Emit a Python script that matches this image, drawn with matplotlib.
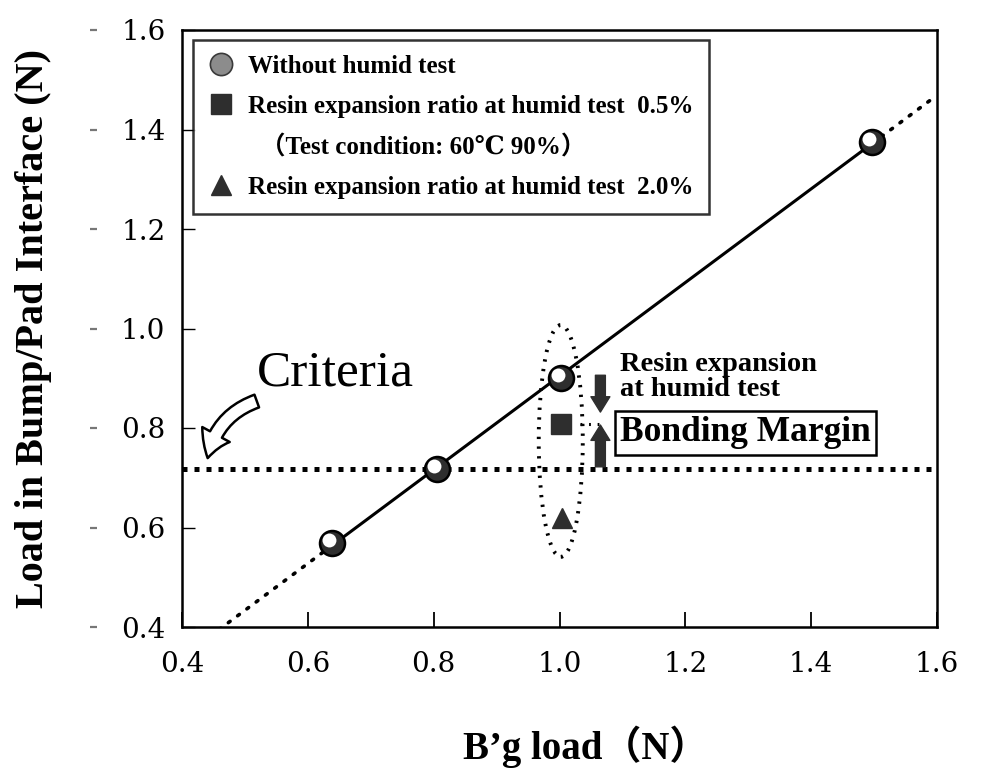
import numpy as np
import matplotlib
matplotlib.use("Agg")
import matplotlib.pyplot as plt
from matplotlib.lines import Line2D
from matplotlib.patches import Ellipse, FancyArrowPatch
from matplotlib.transforms import ScaledTranslation

# ---------------- data ----------------
bg_load = [0.638, 0.805, 1.002, 1.497]          # B'g load (N), without humid test
interface_load = [0.569, 0.718, 0.900, 1.375]   # load in bump/pad interface (N)
humid05_x = [1.002]
humid05_y = [0.808]
humid20_x = [1.004]
humid20_y = [0.619]
criteria = 0.718

xticks = [0.4, 0.6, 0.8, 1.0, 1.2, 1.4, 1.6]
xtick_labels = ["0.4", "0.6", "0.8", "1.0", "1.2", "1.4", "1.6"]
yticks = [0.4, 0.6, 0.8, 1.0, 1.2, 1.4, 1.6]
ytick_labels = ["0.4", "0.6", "0.8", "1.0", "1.2", "1.4", "1.6"]

legend_labels = [
    "Without humid test",
    "Resin expansion ratio at humid test  0.5%",
    "  （Test condition: 60℃ 90%）",
    "Resin expansion ratio at humid test  2.0%",
]
xlabel = "B’g load（N）"
ylabel = "Load in Bump/Pad Interface (N)"

# ---------------- style ----------------
SERIF = ["Liberation Serif", "DejaVu Serif", "Noto Sans CJK JP"]
TICKFONT = ["DejaVu Serif"]
DARK = "#2e2e2e"

fig = plt.figure(figsize=(10.07, 7.68), dpi=100)
ax = fig.add_axes([182 / 1007, 141 / 768, 755 / 1007, 597 / 768])
ax.set_xlim(0.4, 1.6)
ax.set_ylim(0.4, 1.6)

for sp in ax.spines.values():
    sp.set_linewidth(1.8)

ax.set_xticks(xticks, xtick_labels)
ax.set_yticks(yticks, ytick_labels)
ax.tick_params(axis="x", direction="in", length=11, width=1.3, pad=17,
               labelsize=20, top=False)
ax.tick_params(axis="y", direction="in", length=9, width=1.0, pad=12,
               labelsize=20, right=False)
for lab in ax.get_xticklabels() + ax.get_yticklabels():
    lab.set_family(TICKFONT)

# small detached dashes left of the y tick labels
sec = ax.secondary_yaxis(-0.112)
sec.set_yticks(yticks, [""] * len(yticks))
sec.spines["left"].set_visible(False)
sec.tick_params(axis="y", direction="out", length=5, width=1.6, color="#777777")

ax.set_xlabel(xlabel, family=SERIF, fontsize=28, fontweight="bold")
ax.set_ylabel(ylabel, family=SERIF, fontsize=29, fontweight="bold")
ax.xaxis.set_label_coords(0.535, -0.165)
ax.yaxis.set_label_coords(-0.172, 0.5)

# ---------------- criteria line ----------------
ax.axhline(criteria, color="black", lw=3.6, ls=(0, (1, 1.4)), zorder=2)

# ---------------- fitted line ----------------
coef = np.polyfit(bg_load, interface_load, 1)
fit = np.poly1d(coef)
x_in = np.array([min(bg_load), max(bg_load)])
x_lo = np.array([ax.get_xlim()[0], min(bg_load)])
x_hi = np.array([max(bg_load), ax.get_xlim()[1]])
ax.plot(x_in, fit(x_in), color="black", lw=2.2, zorder=3)
dot = dict(color="black", lw=2.6, ls=(0, (0.6, 2.6)), dash_capstyle="round", zorder=3)
ax.plot(x_lo, fit(x_lo), **dot)
ax.plot(x_hi, fit(x_hi), **dot)

# ---------------- points ----------------
ax.plot(bg_load, interface_load, ls="none", marker="o", ms=18,
        mfc=DARK, mec="black", mew=1.8, zorder=5)
hl = ax.transData + ScaledTranslation(-2.2 / 72, 2.2 / 72, fig.dpi_scale_trans)
ax.plot(bg_load, interface_load, ls="none", marker="o", ms=10,
        mfc="white", mec="none", transform=hl, zorder=6)
ax.plot(humid05_x, humid05_y, ls="none", marker="s", ms=14,
        mfc=DARK, mec=DARK, zorder=5)
ax.plot(humid20_x, humid20_y, ls="none", marker="^", ms=14,
        mfc=DARK, mec=DARK, zorder=5)

# ---------------- ellipse around the 1.0 N group ----------------
grp_top = interface_load[2] + 0.107
grp_bot = humid20_y[0] - 0.078
ell = Ellipse((humid05_x[0], (grp_top + grp_bot) / 2), width=0.07,
              height=grp_top - grp_bot, fill=False, ec="black", lw=2.8,
              ls=(0, (0.6, 1.9)), zorder=4)
ax.add_patch(ell)

# ---------------- margin arrows ----------------
x_arrow = humid05_x[0] + 0.063
arrow_kw = dict(arrowstyle="simple,head_width=1.05,head_length=0.85,tail_width=0.55",
                fc=DARK, ec=DARK, mutation_scale=13, shrinkA=0, shrinkB=0)
ax.annotate("", xy=(x_arrow, humid05_y[0] + 0.024), xytext=(x_arrow, interface_load[2] + 0.006),
            arrowprops=arrow_kw, zorder=6)
ax.annotate("", xy=(x_arrow, humid05_y[0] - 0.002), xytext=(x_arrow, criteria + 0.004),
            arrowprops=arrow_kw, zorder=6)
ax.plot([humid05_x[0] + 0.03, x_arrow + 0.005], [humid05_y[0], humid05_y[0]],
        color="black", lw=2.2, ls=(0, (0.6, 2.2)), zorder=4)

ax.text(x_arrow + 0.031, interface_load[2] + 0.053, "Resin expansion\nat humid test",
        family=SERIF, fontweight="bold", fontsize=20.5, ha="left", va="top",
        linespacing=1.0, zorder=7)
ax.text(x_arrow + 0.031, humid05_y[0] - 0.018, "Bonding Margin",
        family=SERIF, fontweight="bold", fontsize=25.5, ha="left", va="center",
        bbox=dict(boxstyle="square,pad=0.15", fc="white", ec="black", lw=1.8),
        zorder=7)

# ---------------- criteria label + curved arrow ----------------
ax.text(0.519, criteria + 0.192, "Criteria", family=SERIF, fontsize=37,
        ha="left", va="center", zorder=7)
carrow = FancyArrowPatch((0.523, criteria + 0.138), (0.44, criteria + 0.016),
                         connectionstyle="arc3,rad=0.3",
                         arrowstyle="simple,head_width=1.5,head_length=1.2,tail_width=0.65",
                         mutation_scale=15, fc="white", ec="black", lw=1.8, zorder=7)
ax.add_patch(carrow)

# ---------------- legend ----------------
handles = [
    Line2D([], [], ls="none", marker="o", ms=16, mfc="#8c8c8c", mec="#3a3a3a", mew=1.2),
    Line2D([], [], ls="none", marker="s", ms=14, mfc=DARK, mec=DARK),
    Line2D([], [], ls="none", marker=None),
    Line2D([], [], ls="none", marker="^", ms=14, mfc=DARK, mec=DARK),
]
leg = ax.legend(handles, legend_labels, loc="upper left",
                bbox_to_anchor=(0.0146, 0.983), borderaxespad=0,
                prop=dict(family=SERIF, weight="bold", size=18),
                handlelength=1.0, handletextpad=0.6, borderpad=0.6,
                labelspacing=0.68, fancybox=False, frameon=True)
leg.get_frame().set_edgecolor("black")
leg.get_frame().set_linewidth(1.8)
leg.set_zorder(8)

fig.savefig("out.png", dpi=100, facecolor="white")
